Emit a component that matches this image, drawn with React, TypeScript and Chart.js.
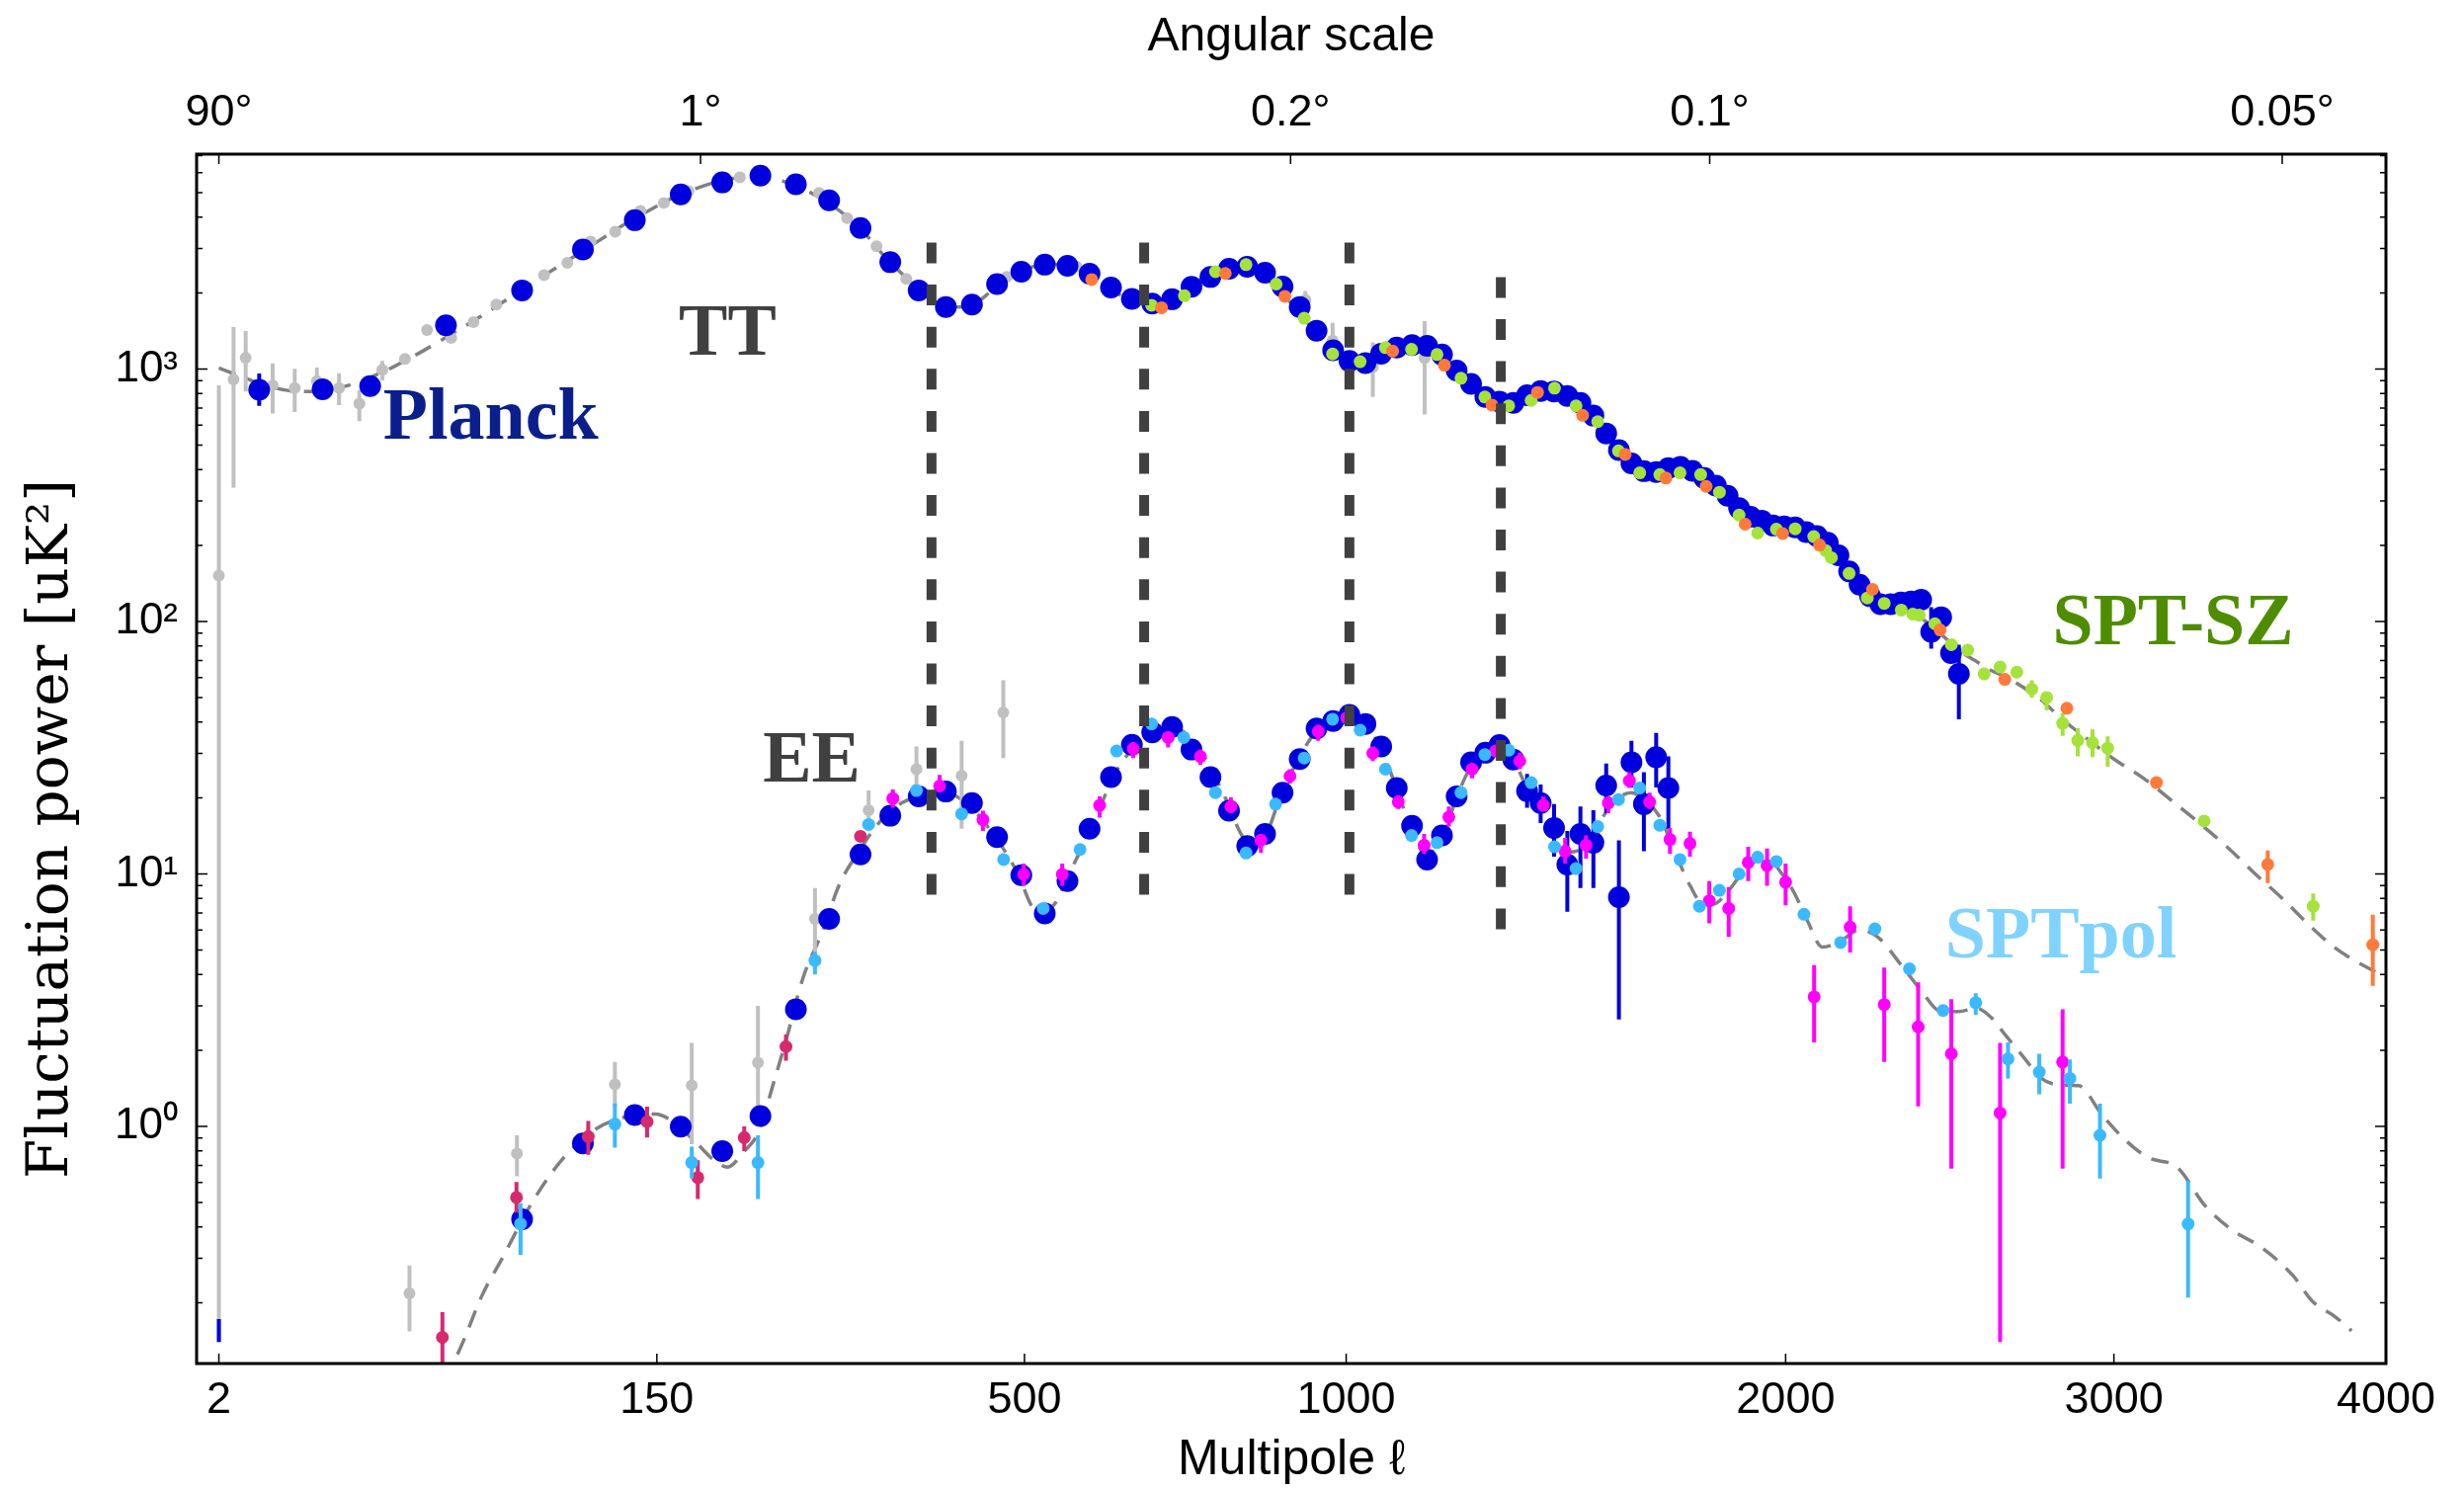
import React, { useEffect, useRef } from 'react';
import { Chart, LinearScale, registerables } from 'chart.js';

const W = 2494;
const H = 1508;
const POWER = 0.45;
const X_MIN = 0.894;
const X_MAX = 4000;
const Y_MIN = 0.115;
const Y_MAX = 7100;

const X_TICKS = [2, 150, 500, 1000, 2000, 3000, 4000];
const ANGLE_TICK_L = [2, 180, 900, 1800, 3600];
const ANGLE_TICK_LABELS = ['90°', '1°', '0.2°', '0.1°', '0.05°'];
const Y_TICKS = [1, 10, 100, 1000];
const Y_TICK_LABELS = ['10⁰', '10¹', '10²', '10³'];
const X_TITLE = 'Multipole ℓ';
const X2_TITLE = 'Angular scale';
const Y_TITLE = 'Fluctuation power [uK²]';

// ---------- TT ----------
const PLANCK_TT = [
  [5.3, 827], [14.2, 832], [24.1, 856], [46, 1490], [76, 2049], [106, 2977], [136, 3887], [166, 4917],
  [196, 5486], [226, 5833], [256, 5398], [286, 4656], [316, 3622], [346, 2650], [376, 2049], [406, 1762],
  [436, 1801], [466, 2171], [496, 2430], [526, 2591], [556, 2566], [586, 2384], [616, 2102], [646, 1896],
  [676, 1818], [706, 1890], [736, 2116], [766, 2315], [796, 2494], [826, 2542], [856, 2406], [886, 2123],
  [916, 1762], [946, 1419], [976, 1186], [1006, 1076], [1036, 1056], [1066, 1151], [1096, 1216], [1126, 1244],
  [1156, 1236], [1186, 1141], [1216, 987], [1246, 873], [1276, 775], [1306, 743], [1336, 734], [1366, 788],
  [1396, 819], [1426, 814], [1456, 783], [1486, 734], [1516, 654], [1546, 556], [1576, 478], [1606, 423],
  [1636, 394], [1666, 391], [1696, 405], [1726, 410], [1756, 395], [1786, 370], [1816, 345], [1846, 315],
  [1876, 281], [1906, 260], [1936, 251], [1966, 240], [1996, 238], [2026, 236], [2056, 226], [2086, 218],
  [2116, 205], [2146, 183], [2176, 158], [2206, 140], [2236, 126], [2266, 117], [2296, 117], [2326, 119],
  [2356, 120], [2386, 122], [2416, 91], [2446, 104], [2476, 75], [2500, 62],
];
const PLANCK_TT_ERR = [[5.3, 715, 961], [2416, 78, 114], [2500, 41, 81]];

const GRAY_TT = [
  [2, 152], [3, 910], [4, 1108], [6.8, 862], [9.7, 840], [13.2, 896], [17.3, 840], [21.6, 729],
  [27.1, 993], [33.2, 1097], [39.8, 1429], [47.8, 1327], [55.9, 1533], [64.9, 1801], [86.2, 2352],
  [97.8, 2634], [110.2, 3195], [124.2, 3496], [139.5, 4227], [154.6, 4550], [171.4, 5062], [209.5, 5740],
  [276.7, 4981], [303, 3963], [332, 3064], [362.7, 2278], [478, 2315], [568, 2550], [926, 1878],
  [975, 1297], [1050, 1019], [1151, 1104],
];
const GRAY_TT_ERR = [
  [2, 0.14, 862], [3, 339, 1466], [4, 814, 1415], [6.8, 666, 1052], [9.7, 675, 1003], [13.2, 788, 1013],
  [17.3, 720, 962], [21.6, 621, 824], [27.1, 902, 1076], [926, 1733, 2036], [975, 1159, 1524],
  [1050, 775, 1276], [1151, 660, 1549],
];

const SPTSZ_GREEN = [
  [675, 1789], [725, 1952], [774, 2430], [824, 2591], [875, 2171], [924, 1589], [975, 1148], [1026, 1069],
  [1074, 1216], [1125, 1197], [1176, 1141], [1225, 919], [1275, 775], [1326, 715], [1375, 751], [1427, 840],
  [1476, 715], [1526, 619], [1575, 474], [1626, 388], [1675, 382], [1725, 388], [1777, 382], [1825, 325],
  [1876, 264], [1925, 224], [1975, 232], [2026, 233], [2077, 217], [2110, 191], [2126, 179], [2176, 155],
  [2228, 124], [2277, 118], [2327, 111], [2361, 107], [2380, 106], [2427, 98], [2477, 81], [2527, 77],
  [2578, 62], [2628, 66], [2681, 63], [2729, 54], [2777, 50], [2829, 39.5], [2879, 33.8], [2928, 33.1],
  [2979, 31.5], [3314, 16.2], [3717, 7.45],
];
const SPTSZ_GREEN_ERR = [
  [2729, 50.0, 58.5], [2777, 44.5, 52.5], [2829, 35.2, 43.3], [2879, 29.2, 37.8], [2928, 29.0, 37.4],
  [2979, 26.6, 35.1], [3717, 6.53, 8.37],
];
const SPTSZ_ORANGE = [
  [589, 2263], [690, 1750], [790, 2391], [890, 1940], [1088, 1178], [1191, 1036], [1290, 720], [1389, 808],
  [1491, 656], [1591, 459], [1690, 370], [1791, 343], [1892, 243], [1992, 223], [2093, 201], [2243, 134],
  [2443, 92.6], [2643, 59], [2843, 45.3], [3146, 23.0], [3546, 10.9], [3948, 5.24],
];
const SPTSZ_ORANGE_ERR = [[3546, 9.2, 12.4], [3948, 3.6, 6.9]];

// ---------- EE ----------
const PLANCK_EE = [
  [76, 0.429], [106, 0.856], [136, 1.11], [166, 0.997], [196, 0.798], [226, 1.10], [256, 2.91], [286, 6.64],
  [316, 11.94], [346, 17.0], [376, 20.3], [406, 21.2], [436, 19.1], [466, 14.0], [496, 9.88], [526, 6.97],
  [556, 9.36], [586, 15.1], [616, 24.2], [646, 32.5], [676, 36.4], [706, 38.2], [736, 31.1], [766, 24.2],
  [796, 17.8], [826, 12.9], [856, 14.4], [886, 21.0], [916, 28.5], [946, 37.7], [976, 40.3], [1006, 42.7],
  [1036, 39.3], [1066, 32.0], [1096, 21.9], [1126, 15.5], [1156, 11.4], [1186, 14.2], [1216, 20.3],
  [1246, 27.7], [1276, 30.2], [1306, 32.4], [1336, 28.4], [1366, 21.3], [1396, 19.1], [1426, 15.2],
  [1456, 10.9], [1486, 14.4], [1516, 13.3], [1546, 22.4], [1576, 8.09], [1606, 27.7], [1636, 18.9],
  [1666, 29.0], [1696, 21.9],
];
const PLANCK_EE_ERR = [
  [2, 0.14, 0.1725], [1366, 18.3, 24.9], [1396, 15.9, 22.6], [1426, 11.7, 18.9], [1456, 7.09, 14.8],
  [1486, 8.8, 18.5], [1516, 8.8, 17.9], [1546, 17.4, 27.4], [1576, 2.65, 13.6], [1606, 22.0, 33.7],
  [1636, 12.3, 25.3], [1666, 22.0, 36.2], [1696, 15.1, 29.2],
];

const GRAY_EE = [
  [34.5, 0.218], [73.7, 0.781], [124, 1.466], [173.7, 1.453], [224, 1.787], [273, 6.64], [324, 17.9],
  [373.6, 26.0], [424, 24.5], [473.6, 43.6],
];
const GRAY_EE_ERR = [
  [34.5, 0.154, 0.281], [73.7, 0.635, 0.922], [124, 1.20, 1.80], [173.7, 0.85, 2.14], [224, 1.07, 3.0],
  [273, 4.93, 8.8], [324, 15.7, 21.4], [373.6, 21.9, 32.0], [424, 15.1, 33.7], [473.6, 28.8, 58.5],
];

const CRIMSON_EE = [
  [44.8, 0.146], [73.5, 0.523], [108.9, 0.911], [143.7, 1.044], [178, 0.627], [213, 0.903], [247.4, 2.07],
  [316, 14.1],
];
const CRIMSON_EE_ERR = [
  [44.8, 0.09, 0.1836], [73.5, 0.456, 0.602], [108.9, 0.772, 1.052], [143.7, 0.903, 1.197],
  [178, 0.516, 0.734], [213, 0.798, 1.0], [247.4, 1.82, 2.31],
];

const SPTPOL_EE = [
  [75.3, 0.411], [124, 1.022], [173.7, 0.719], [224, 0.719], [273, 4.54], [324, 15.7], [373.6, 21.4],
  [424, 17.3], [474, 11.4], [524, 7.30], [573, 12.5], [624, 30.7], [675, 39.3], [724, 34.7], [774, 21.0],
  [824, 12.1], [874, 18.9], [924, 28.8], [975, 41.0], [1026, 37.1], [1074, 26.0], [1125, 14.2],
  [1176, 13.3], [1225, 21.0], [1275, 29.7], [1326, 30.9], [1375, 23.0], [1427, 12.8], [1476, 10.5],
  [1526, 15.4], [1575, 19.7], [1626, 21.9], [1675, 15.6], [1725, 11.4], [1774, 7.45], [1825, 8.61],
  [1876, 10.0], [1925, 11.65], [1975, 11.2], [2050, 6.92], [2152, 5.35], [2250, 6.06], [2351, 4.21],
  [2452, 2.88], [2552, 3.09], [2653, 1.85], [2753, 1.64], [2853, 1.55], [2953, 0.922], [3257, 0.411],
];
const SPTPOL_EE_ERR = [
  [75.3, 0.310, 0.496], [124, 0.824, 1.232], [173.7, 0.622, 0.831], [224, 0.516, 0.922], [273, 4.0, 4.93],
  [2552, 2.76, 3.37], [2653, 1.55, 2.15], [2753, 1.34, 1.94], [2853, 1.23, 1.84], [2953, 0.622, 1.23],
  [3257, 0.210, 0.609],
];

const MAGENTA_EE = [
  [348.6, 19.9], [399, 22.3], [449, 16.4], [499, 9.96], [549, 9.96], [600, 18.7], [648, 31.3], [700, 34.7],
  [750, 29.2], [799, 18.5], [849, 13.6], [899, 24.4], [949, 36.7], [1001, 41.5], [1050, 30.1], [1099, 19.3],
  [1150, 13.0], [1200, 16.8], [1248, 26.0], [1298, 30.7], [1350, 28.0], [1402, 18.7], [1451, 12.3],
  [1499, 13.0], [1551, 19.1], [1601, 23.4], [1650, 19.3], [1700, 13.7], [1750, 13.2], [1799, 7.83],
  [1849, 7.30], [1900, 11.1], [1950, 10.8], [2000, 9.28], [2078, 3.26], [2179, 6.16], [2277, 3.04],
  [2377, 2.48], [2477, 1.94], [2628, 1.13], [2829, 1.80],
];
const MAGENTA_EE_ERR = [
  [348.6, 18.3, 21.6], [399, 21.4, 24.7], [449, 14.8, 17.8], [499, 8.98, 11.0], [549, 8.98, 11.0],
  [600, 16.7, 20.3], [648, 28.8, 33.3], [700, 31.7, 36.7], [750, 27.1, 31.1], [799, 17.4, 20.1],
  [849, 12.1, 14.4], [899, 22.8, 26.0], [949, 33.7, 39.0], [1001, 39.0, 43.8], [1050, 28.0, 32.0],
  [1099, 18.1, 20.5], [1150, 12.0, 14.4], [1200, 15.4, 18.5], [1248, 23.9, 27.4], [1298, 29.0, 32.4],
  [1350, 26.0, 30.2], [1402, 17.8, 20.3], [1451, 11.0, 13.9], [1499, 11.5, 14.2], [1551, 17.4, 20.3],
  [1601, 21.9, 25.3], [1650, 18.1, 21.0], [1700, 12.0, 15.2], [1750, 11.7, 14.7], [1799, 6.37, 9.36],
  [1849, 5.63, 8.87], [1900, 9.36, 12.8], [1950, 8.98, 12.6], [2000, 7.51, 11.0], [2078, 2.15, 4.35],
  [2179, 4.89, 7.45], [2277, 1.80, 4.26], [2377, 1.20, 3.72], [2477, 0.68, 3.19], [2628, 0.14, 2.14],
  [2829, 0.68, 2.91],
];

// ---------- theory curves ----------
const THEORY_TT = [
  [2, 1010], [3, 960], [4, 920], [6, 860], [8, 830], [10, 815], [13, 815], [16, 830], [20, 870], [25, 940],
  [30, 1020], [36, 1130], [42, 1250], [50, 1420], [58, 1600], [66, 1800], [76, 2060], [88, 2400],
  [100, 2750], [115, 3230], [130, 3750], [145, 4250], [160, 4750], [175, 5150], [190, 5480], [205, 5700],
  [220, 5780], [235, 5700], [250, 5450], [265, 5100], [280, 4700], [300, 4100], [320, 3450], [340, 2800],
  [360, 2350], [380, 2030], [400, 1830], [420, 1760], [440, 1820], [460, 2050], [480, 2300], [500, 2480],
  [520, 2580], [540, 2600], [560, 2540], [580, 2400], [600, 2200], [620, 2030], [640, 1900], [660, 1830],
  [680, 1810], [700, 1860], [720, 2000], [740, 2180], [760, 2350], [780, 2490], [800, 2560], [820, 2540],
  [840, 2440], [860, 2270], [880, 2060], [900, 1830], [920, 1620], [940, 1430], [960, 1270], [980, 1150],
  [1000, 1080], [1020, 1060], [1040, 1080], [1060, 1130], [1080, 1190], [1100, 1225], [1130, 1245],
  [1160, 1220], [1190, 1130], [1220, 990], [1250, 860], [1280, 770], [1310, 730], [1340, 740], [1370, 785],
  [1400, 815], [1430, 815], [1460, 780], [1490, 720], [1520, 640], [1550, 550], [1580, 475], [1610, 420],
  [1640, 392], [1670, 385], [1700, 395], [1730, 400], [1760, 390], [1790, 368], [1820, 340], [1850, 305],
  [1880, 275], [1910, 252], [1940, 240], [1970, 235], [2000, 236], [2030, 234], [2060, 225], [2090, 212],
  [2120, 195], [2150, 175], [2180, 156], [2210, 138], [2240, 126], [2270, 118], [2300, 114], [2330, 111],
  [2360, 108], [2400, 100], [2450, 88], [2500, 77], [2550, 70], [2600, 64], [2650, 60], [2700, 55],
  [2750, 50], [2800, 44], [2850, 39], [2900, 35], [2950, 31.5], [3000, 28.5], [3100, 24], [3200, 19.5],
  [3300, 15.8], [3400, 12.7], [3500, 10.0], [3600, 8.0], [3700, 6.3], [3800, 5.1], [3900, 4.4], [4000, 3.9],
];
const THEORY_EE = [
  [50, 0.125], [52, 0.14], [59, 0.212], [68, 0.308], [78.5, 0.466], [89.5, 0.648], [99, 0.798],
  [111.5, 0.961], [125, 1.066], [149, 1.12], [163, 1.02], [178, 0.849], [190, 0.734], [200, 0.690],
  [213, 0.798], [224, 0.941], [238, 1.55], [248, 2.24], [262, 3.84], [279, 5.81], [296, 9.16], [314, 12.2],
  [333, 15.7], [352, 18.5], [374, 20.3], [400, 21.3], [430, 19.0], [460, 14.6], [490, 10.3], [515, 7.2],
  [535, 7.4], [560, 10.3], [590, 15.5], [620, 24.5], [650, 32], [680, 37], [705, 38.3], [730, 35.5],
  [760, 28], [790, 20], [815, 14.5], [835, 12.6], [855, 13.8], [880, 19.5], [910, 27.5], [940, 35.5],
  [970, 40.5], [1000, 42.2], [1030, 39.5], [1060, 33], [1090, 23.5], [1120, 16], [1150, 12.2],
  [1170, 12.3], [1190, 14.5], [1220, 21], [1250, 27.5], [1280, 30.5], [1305, 31.5], [1335, 28.5],
  [1365, 22], [1395, 17.5], [1425, 13.8], [1455, 12.2], [1485, 12.5], [1515, 14.5], [1545, 17.5],
  [1575, 20], [1605, 21], [1640, 19.5], [1673, 17.0], [1719, 11.5], [1750, 9.0], [1783, 7.61],
  [1810, 7.6], [1849, 8.61], [1900, 10.8], [1952, 11.5], [1990, 10.0], [2023, 8.44], [2060, 6.5],
  [2101, 5.13], [2150, 5.4], [2206, 6.01], [2260, 5.6], [2327, 4.35], [2390, 3.4], [2439, 2.88],
  [2500, 2.85], [2552, 2.94], [2600, 2.7], [2640, 2.34], [2700, 1.9], [2760, 1.55], [2820, 1.46],
  [2882, 1.45], [2960, 1.11], [3040, 0.88], [3120, 0.750], [3218, 0.690], [3317, 0.486], [3417, 0.387],
  [3519, 0.334], [3641, 0.256], [3712, 0.204], [3802, 0.176], [3865, 0.155],
];

// vertical dashed markers: [ell, top value, bottom value]
const MARKER_LINES = [[390, 3169, 8.26], [664, 3169, 8.26], [1006, 3169, 8.26], [1309, 2314, 6.01]];

// text labels anchored at [ell, value] (left / baseline)
const TEXT_LABELS = [
  { text: 'Planck', l: 27.3, v: 532, color: '#0b1f8c' },
  { text: 'TT', l: 164.7, v: 1140, color: '#404040' },
  { text: 'EE', l: 228, v: 23.25, color: '#404040' },
  { text: 'SPT-SZ', l: 2796, v: 81.4, color: '#4e8d00' },
  { text: 'SPTpol', l: 2458, v: 4.69, color: '#80d2ff' },
];

// ---------- colours ----------
const C_PLANCK = '#0000dd';
const C_GRAY = '#c0c0c0';
const C_GREEN = '#a5e23b';
const C_ORANGE = '#ff7a3a';
const C_LIGHTBLUE = '#3bb9ff';
const C_MAGENTA = '#ff00ff';
const C_CRIMSON = '#d62a6f';
const C_THEORY = '#808080';
const C_MARKER = '#404040';

const SANS = "'Liberation Sans Narrow', 'Liberation Sans', sans-serif";
const SANS_TITLE = "'Liberation Sans', sans-serif";

class PowerScale extends LinearScale {
  static id = 'power';
  static defaults = {};
  getPixelForValue(value: number) {
    const a = Math.pow(this.min, POWER);
    const b = Math.pow(this.max, POWER);
    return this.getPixelForDecimal((Math.pow(value, POWER) - a) / (b - a));
  }
  getValueForPixel(pixel: number) {
    const a = Math.pow(this.min, POWER);
    const b = Math.pow(this.max, POWER);
    return Math.pow(a + this.getDecimalForPixel(pixel) * (b - a), 1 / POWER);
  }
}
Chart.register(...registerables, PowerScale);

const pts = (arr: number[][]) => arr.map(([x, y]) => ({ x, y }));
const bars = (arr: number[][]) =>
  arr.flatMap(([x, lo, hi]) => [{ x, y: lo }, { x, y: hi }, { x, y: null as any }]);

const scatterSet = (data: number[][], color: string, r: number, order: number) => ({
  data: pts(data),
  xAxisID: 'x',
  yAxisID: 'y',
  showLine: false,
  pointRadius: r,
  pointHoverRadius: r,
  pointBackgroundColor: color,
  pointBorderColor: color,
  pointBorderWidth: 0,
  order,
});
const errSet = (data: number[][], color: string, w: number, order: number) => ({
  data: bars(data),
  xAxisID: 'x',
  yAxisID: 'y',
  showLine: true,
  borderColor: color,
  borderWidth: w,
  borderCapStyle: 'butt',
  pointRadius: 0,
  pointHoverRadius: 0,
  spanGaps: false,
  tension: 0,
  clip: 0,
  order,
});
const theorySet = (data: number[][], order: number) => ({
  data: pts(data),
  xAxisID: 'x',
  yAxisID: 'y',
  showLine: true,
  borderColor: C_THEORY,
  borderWidth: 3.5,
  borderDash: [18, 12],
  pointRadius: 0,
  pointHoverRadius: 0,
  cubicInterpolationMode: 'monotone',
  clip: 0,
  order,
});

const decorPlugin = {
  id: 'decor',
  afterDraw(chart: any) {
    const { ctx, chartArea: a } = chart;
    const sx = chart.scales.x;
    const sy = chart.scales.y;
    ctx.save();
    ctx.strokeStyle = '#000';
    ctx.lineWidth = 1.5;
    ctx.beginPath();
    X_TICKS.forEach((v) => {
      const p = sx.getPixelForValue(v);
      ctx.moveTo(p, a.bottom);
      ctx.lineTo(p, a.bottom - 10);
    });
    ANGLE_TICK_L.forEach((v) => {
      const p = sx.getPixelForValue(v);
      ctx.moveTo(p, a.top);
      ctx.lineTo(p, a.top + 10);
    });
    for (let e = -1; e <= 3; e++) {
      for (let m = 1; m <= 9; m++) {
        const v = m * Math.pow(10, e);
        if (v < Y_MIN || v > Y_MAX) continue;
        const p = sy.getPixelForValue(v);
        const len = m === 1 ? 11 : 6;
        ctx.moveTo(a.left, p);
        ctx.lineTo(a.left + len, p);
        ctx.moveTo(a.right, p);
        ctx.lineTo(a.right - len, p);
      }
    }
    ctx.stroke();
    ctx.lineWidth = 3;
    ctx.strokeRect(a.left, a.top, a.right - a.left, a.bottom - a.top);

    ctx.textAlign = 'left';
    ctx.textBaseline = 'alphabetic';
    ctx.font = "bold 74px 'Liberation Serif', serif";
    TEXT_LABELS.forEach((t) => {
      ctx.fillStyle = t.color;
      ctx.fillText(t.text, sx.getPixelForValue(t.l), sy.getPixelForValue(t.v));
    });

    ctx.translate(68, 839);
    ctx.rotate(-Math.PI / 2);
    ctx.textAlign = 'center';
    ctx.fillStyle = '#000';
    ctx.font = "58px 'DejaVu Serif', serif";
    ctx.fillText(Y_TITLE, 0, 0);
    ctx.restore();
  },
};

export default function App() {
  const ref = useRef<HTMLCanvasElement>(null);
  useEffect(() => {
    const markerData = MARKER_LINES.flatMap(([l, top, bottom]) => [
      { x: l, y: top },
      { x: l, y: bottom },
      { x: l, y: null as any },
    ]);
    const datasets: any[] = [
      theorySet(THEORY_TT, 30),
      theorySet(THEORY_EE, 30),
      errSet(GRAY_TT_ERR, C_GRAY, 4, 29),
      scatterSet(GRAY_TT, C_GRAY, 6, 28),
      errSet(GRAY_EE_ERR, C_GRAY, 4, 29),
      scatterSet(GRAY_EE, C_GRAY, 6, 28),
      errSet(PLANCK_TT_ERR, C_PLANCK, 4, 27),
      scatterSet(PLANCK_TT, C_PLANCK, 11, 26),
      errSet(PLANCK_EE_ERR, C_PLANCK, 4, 27),
      scatterSet(PLANCK_EE, C_PLANCK, 11, 26),
      errSet(CRIMSON_EE_ERR, C_CRIMSON, 4, 25),
      scatterSet(CRIMSON_EE, C_CRIMSON, 6.5, 24),
      errSet(MAGENTA_EE_ERR, C_MAGENTA, 4, 23),
      scatterSet(MAGENTA_EE, C_MAGENTA, 6.5, 22),
      errSet(SPTPOL_EE_ERR, C_LIGHTBLUE, 4, 21),
      scatterSet(SPTPOL_EE, C_LIGHTBLUE, 6.5, 20),
      errSet(SPTSZ_GREEN_ERR, C_GREEN, 4, 19),
      scatterSet(SPTSZ_GREEN, C_GREEN, 6.5, 18),
      errSet(SPTSZ_ORANGE_ERR, C_ORANGE, 4, 17),
      scatterSet(SPTSZ_ORANGE, C_ORANGE, 6.5, 16),
      {
        data: markerData,
        xAxisID: 'x',
        yAxisID: 'y',
        showLine: true,
        borderColor: C_MARKER,
        borderWidth: 10,
        borderDash: [21, 21.6],
        borderCapStyle: 'butt',
        pointRadius: 0,
        pointHoverRadius: 0,
        spanGaps: false,
        tension: 0,
        clip: 0,
        order: 1,
      },
    ];

    const chart = new Chart(ref.current as HTMLCanvasElement, {
      type: 'scatter',
      data: { datasets },
      options: {
        responsive: false,
        maintainAspectRatio: false,
        animation: false,
        devicePixelRatio: 1,
        events: [],
        layout: { padding: { left: 0, right: 79, top: 0, bottom: 0 } },
        plugins: { legend: { display: false }, tooltip: { enabled: false } },
        scales: {
          x: {
            type: 'power' as any,
            position: 'bottom',
            min: X_MIN,
            max: X_MAX,
            bounds: 'data',
            grid: { display: false, drawTicks: false },
            border: { display: false },
            afterBuildTicks: (s: any) => {
              s.ticks = X_TICKS.map((v) => ({ value: v }));
            },
            ticks: {
              autoSkip: false,
              maxRotation: 0,
              minRotation: 0,
              padding: 11,
              color: '#000',
              font: { family: SANS, size: 45 },
              callback: (v: any) => String(v),
            },
            title: {
              display: true,
              text: X_TITLE,
              color: '#000',
              font: { family: SANS_TITLE, size: 50 },
              padding: { top: 0, bottom: 0 },
            },
            afterFit: (s: any) => {
              s.height = 128;
            },
          },
          x2: {
            type: 'power' as any,
            position: 'top',
            min: X_MIN,
            max: X_MAX,
            bounds: 'data',
            grid: { display: false, drawTicks: false },
            border: { display: false },
            afterBuildTicks: (s: any) => {
              s.ticks = ANGLE_TICK_L.map((v) => ({ value: v }));
            },
            ticks: {
              autoSkip: false,
              maxRotation: 0,
              minRotation: 0,
              padding: 14,
              color: '#000',
              font: { family: SANS, size: 45 },
              callback: (v: any) => {
                const i = ANGLE_TICK_L.indexOf(Number(v));
                return i >= 0 ? ANGLE_TICK_LABELS[i] : '';
              },
            },
            title: {
              display: true,
              text: X2_TITLE,
              color: '#000',
              font: { family: SANS_TITLE, size: 48 },
              padding: { top: 9, bottom: 0 },
            },
            afterFit: (s: any) => {
              s.height = 156;
            },
          },
          y: {
            type: 'logarithmic',
            position: 'left',
            min: Y_MIN,
            max: Y_MAX,
            bounds: 'data',
            grid: { display: false, drawTicks: false },
            border: { display: false },
            afterBuildTicks: (s: any) => {
              s.ticks = Y_TICKS.map((v) => ({ value: v }));
            },
            ticks: {
              autoSkip: false,
              padding: 19,
              color: '#000',
              font: { family: "'Liberation Sans', sans-serif", size: 44 },
              callback: (v: any) => {
                const i = Y_TICKS.indexOf(Number(v));
                return i >= 0 ? Y_TICK_LABELS[i] : '';
              },
            },
            afterFit: (s: any) => {
              s.width = 199;
            },
          },
        },
      } as any,
      plugins: [decorPlugin],
    });
    return () => chart.destroy();
  }, []);

  return (
    <div style={{ position: 'fixed', left: 0, top: 0, width: W, height: H, background: '#fff' }}>
      <canvas ref={ref} width={W} height={H} style={{ width: W, height: H, display: 'block' }} />
    </div>
  );
}
